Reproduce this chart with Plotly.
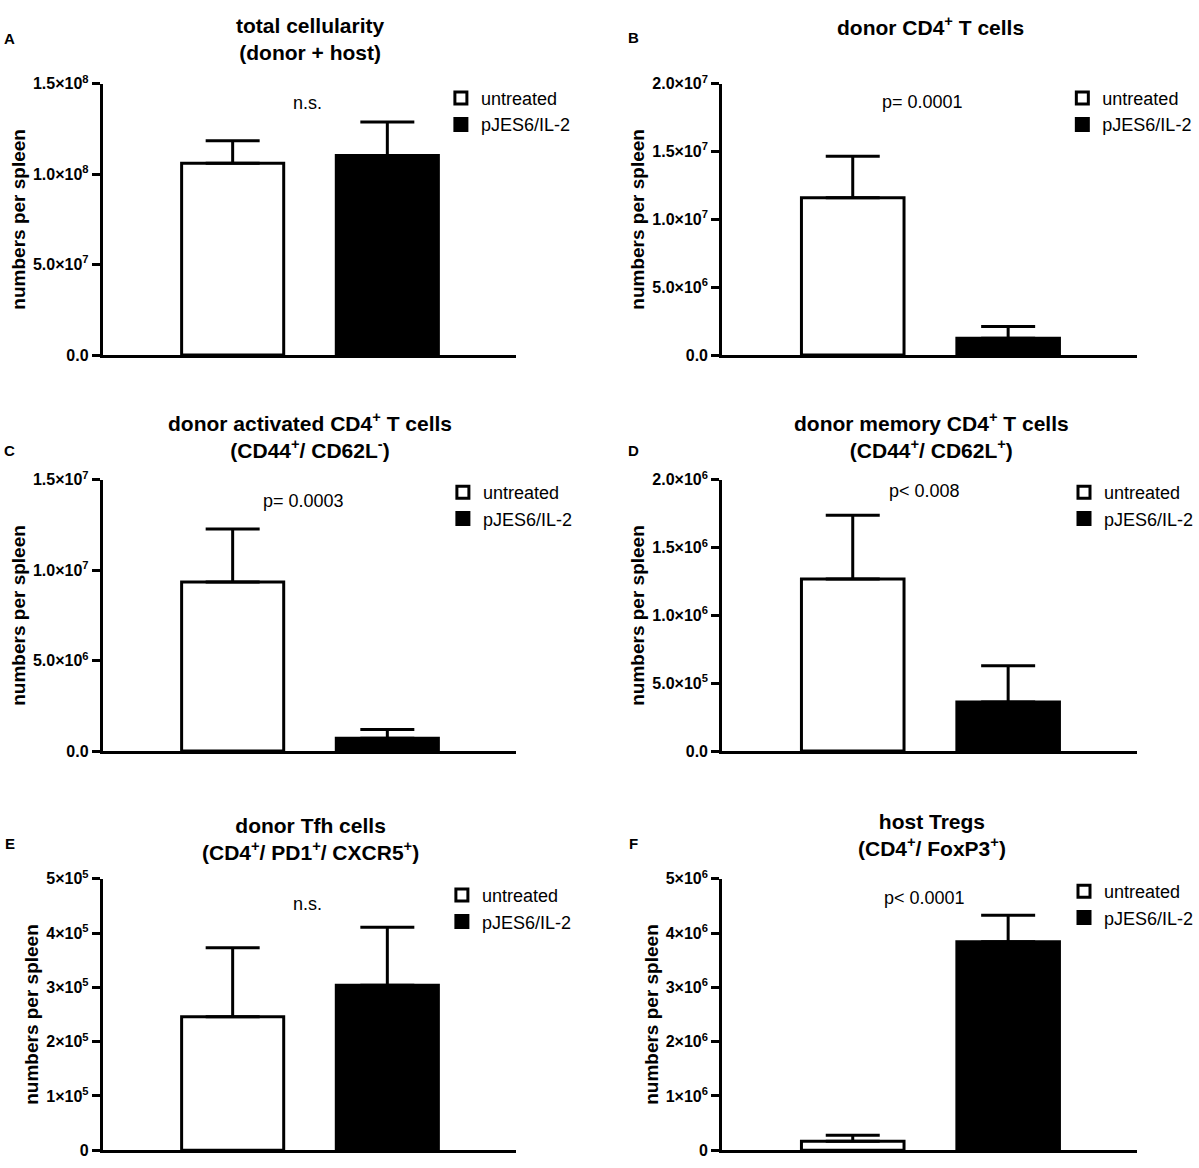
import plotly.graph_objects as go

# ---------------- data ----------------
groups = ["untreated", "pJES6/IL-2"]
panel_letters = ["A", "B", "C", "D", "E", "F"]
panel_titles = [
    "total cellularity<br>(donor + host)",
    "donor CD4<sup>+</sup> T cells",
    "donor activated CD4<sup>+</sup> T cells<br>(CD44<sup>+</sup>/ CD62L<sup>-</sup>)",
    "donor memory CD4<sup>+</sup> T cells<br>(CD44<sup>+</sup>/ CD62L<sup>+</sup>)",
    "donor Tfh cells<br>(CD4<sup>+</sup>/ PD1<sup>+</sup>/ CXCR5<sup>+</sup>)",
    "host Tregs<br>(CD4<sup>+</sup>/ FoxP3<sup>+</sup>)",
]
p_labels = ["n.s.", "p= 0.0001", "p= 0.0003", "p< 0.008", "n.s.", "p< 0.0001"]

untreated_mean = [1.06e8, 1.16e7, 9.35e6, 1.268e6, 2.46e5, 1.63e5]
untreated_err = [1.25e7, 3.05e6, 2.93e6, 4.71e5, 1.27e5, 1.10e5]
treated_mean = [1.103e8, 1.23e6, 7.1e5, 3.62e5, 3.04e5, 3.84e6]
treated_err = [1.85e7, 8.7e5, 4.9e5, 2.68e5, 1.07e5, 4.9e5]

y_max = [1.5e8, 2.0e7, 1.5e7, 2.0e6, 5e5, 5e6]
tick_vals = [
    [0, 5e7, 1e8, 1.5e8],
    [0, 5e6, 1e7, 1.5e7, 2e7],
    [0, 5e6, 1e7, 1.5e7],
    [0, 5e5, 1e6, 1.5e6, 2e6],
    [0, 1e5, 2e5, 3e5, 4e5, 5e5],
    [0, 1e6, 2e6, 3e6, 4e6, 5e6],
]
tick_text = [
    ["0.0", "5.0×10<sup>7</sup>", "1.0×10<sup>8</sup>", "1.5×10<sup>8</sup>"],
    ["0.0", "5.0×10<sup>6</sup>", "1.0×10<sup>7</sup>", "1.5×10<sup>7</sup>", "2.0×10<sup>7</sup>"],
    ["0.0", "5.0×10<sup>6</sup>", "1.0×10<sup>7</sup>", "1.5×10<sup>7</sup>"],
    ["0.0", "5.0×10<sup>5</sup>", "1.0×10<sup>6</sup>", "1.5×10<sup>6</sup>", "2.0×10<sup>6</sup>"],
    ["0", "1×10<sup>5</sup>", "2×10<sup>5</sup>", "3×10<sup>5</sup>", "4×10<sup>5</sup>", "5×10<sup>5</sup>"],
    ["0", "1×10<sup>6</sup>", "2×10<sup>6</sup>", "3×10<sup>6</sup>", "4×10<sup>6</sup>", "5×10<sup>6</sup>"],
]
y_title = "numbers per spleen"

# ---------------- layout geometry (pixels) ----------------
W, H = 1199, 1168
FONT = "Liberation Sans, Arial, Helvetica, sans-serif"

col_x = [(103, 517), (724, 1140)]
row_y = [(74, 350), (477, 753), (883, 1159)]
legend_pos = [(442, 70), (1065, 70), (444, 471), (1067, 471), (443, 881), (1067, 877)]
p_pos = [(308, 94), (925, 93), (304, 499), (927, 488), (308, 909), (927, 902)]
title_pos = [(311, 28), (933, 15), (311, 432), (934, 432), (311, 842), (934, 838)]
letter_pos = [(10, 28), (635, 27), (10, 447), (635, 447), (10, 847), (635, 847)]


def px(x):
    return x / W


def py(y):
    return 1 - y / H


fig = go.Figure()
annotations = []

for i in range(6):
    r, c = divmod(i, 2)
    k = "" if i == 0 else str(i + 1)
    xa, ya = "x" + k, "y" + k
    leg = "legend" + k
    x0, x1 = col_x[c]
    y0, y1 = row_y[r]

    for g, mean, err, fill in [
        (groups[0], untreated_mean[i], untreated_err[i], "white"),
        (groups[1], treated_mean[i], treated_err[i], "black"),
    ]:
        fig.add_trace(
            go.Bar(
                x=[g],
                y=[mean],
                name=g,
                width=0.66,
                marker=dict(color=fill, line=dict(color="black", width=3)),
                error_y=dict(
                    type="data",
                    symmetric=False,
                    array=[err],
                    arrayminus=[0],
                    color="black",
                    thickness=3,
                    width=27,
                ),
                xaxis=xa,
                yaxis=ya,
                legend=leg,
                legendgroup=g + k,
                showlegend=True,
            )
        )

    fig.layout["xaxis" + k] = dict(
        domain=[px(x0), px(x1)],
        anchor=ya,
        type="category",
        categoryorder="array",
        categoryarray=groups,
        range=[-0.84, 1.83],
        showline=True,
        linewidth=3,
        linecolor="black",
        showticklabels=False,
        ticks="",
        showgrid=False,
        zeroline=False,
        fixedrange=True,
    )
    fig.layout["yaxis" + k] = dict(
        domain=[py(y1), py(y0)],
        anchor=xa,
        range=[0, y_max[i]],
        showline=True,
        linewidth=3,
        linecolor="black",
        ticks="outside",
        ticklen=8,
        tickwidth=3,
        tickcolor="black",
        tickvals=tick_vals[i],
        ticktext=tick_text[i],
        tickfont=dict(family=FONT, size=16, color="black", weight="bold"),
        showgrid=False,
        zeroline=False,
        fixedrange=True,
        title=dict(
            text=y_title,
            font=dict(family=FONT, size=19, color="black", weight="bold"),
            standoff=3,
        ),
    )
    lx, ly = legend_pos[i]
    fig.layout[leg] = dict(
        x=px(lx),
        y=py(ly),
        xanchor="left",
        yanchor="top",
        bgcolor="rgba(0,0,0,0)",
        font=dict(family=FONT, size=18, color="black"),
        tracegroupgap=8,
        traceorder="normal",
        itemclick=False,
        itemdoubleclick=False,
    )

    tx, ty = title_pos[i]
    annotations.append(dict(
        text=panel_titles[i], x=px(tx), y=py(ty), xref="paper", yref="paper",
        xanchor="center", yanchor="middle", showarrow=False,
        font=dict(family=FONT, size=21, color="black", weight="bold"),
    ))
    ax_, ay_ = letter_pos[i]
    annotations.append(dict(
        text=panel_letters[i], x=px(ax_), y=py(ay_), xref="paper", yref="paper",
        xanchor="center", yanchor="middle", showarrow=False,
        font=dict(family=FONT, size=15, color="black", weight="bold"),
    ))
    pxx, pyy = p_pos[i]
    annotations.append(dict(
        text=p_labels[i], x=px(pxx), y=py(pyy), xref="paper", yref="paper",
        xanchor="center", yanchor="middle", showarrow=False,
        font=dict(family=FONT, size=18, color="black"),
    ))

fig.update_layout(
    width=W,
    height=H,
    margin=dict(l=0, r=0, t=0, b=0),
    paper_bgcolor="white",
    plot_bgcolor="white",
    barmode="overlay",
    annotations=annotations,
    font=dict(family=FONT, color="black"),
)

fig.write_html(
    "out.html",
    config={"displayModeBar": False},
    post_script="document.body.style.margin='0';document.body.style.overflow='hidden';",
)
